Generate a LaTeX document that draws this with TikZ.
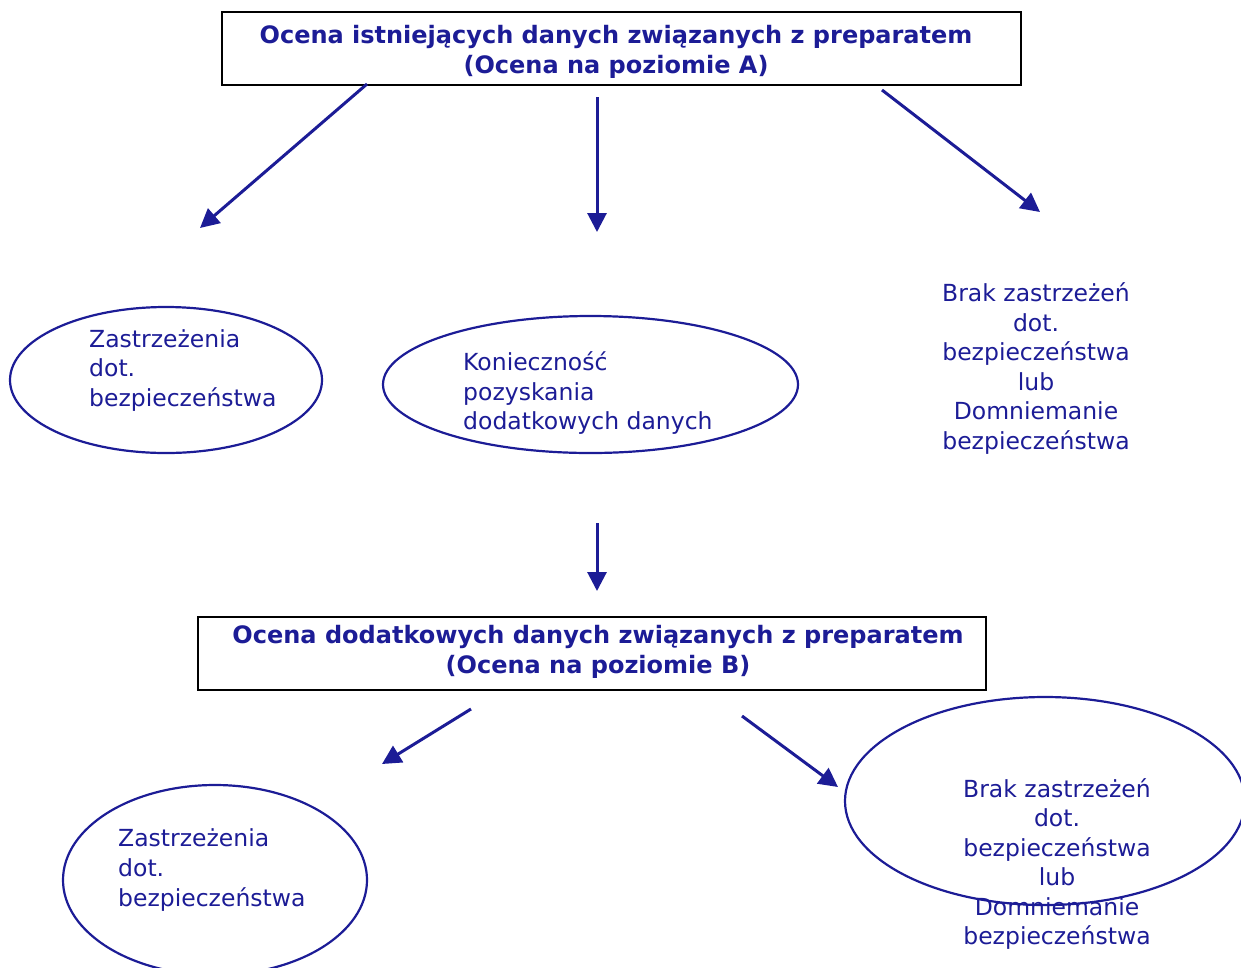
\documentclass[tikz,border=0pt]{standalone}
\usepackage{fontspec}
\setmainfont{DejaVu Sans}
\usetikzlibrary{shapes.geometric,arrows.meta}
\definecolor{navy}{RGB}{28,28,150}
\tikzset{
  titlebox/.style={draw=black,line width=2pt,rectangle,inner sep=0pt},
  titletext/.style={text=navy,inner sep=0pt,align=center,
    font=\bfseries\fontsize{24}{29.5}\selectfont},
  oval/.style={draw=navy,line width=2.2pt,ellipse,inner sep=0pt},
  label/.style={text=navy,inner sep=0pt,font=\fontsize{23.5}{29.5}\selectfont},
  flow/.style={draw=navy,line width=3pt,-{Triangle[length=19pt,width=19pt]}}
}
\begin{document}
\begin{tikzpicture}[x=1pt,y=-1pt]
\useasboundingbox (0,0) rectangle (1241,967);
\clip (0,0) rectangle (1241,967);
% boxes
\node[titlebox,minimum width=799pt,minimum height=73pt] (boxA) at (621.5,48.5) {};
\node[titletext] (titleA) at (616,52)
  {Ocena istniejących danych związanych z preparatem\\(Ocena na poziomie A)};
\node[titlebox,minimum width=788pt,minimum height=73pt] (boxB) at (592,653.5) {};
\node[titletext] (titleB) at (598,652)
  {Ocena dodatkowych danych związanych z preparatem\\(Ocena na poziomie B)};
% ellipses
\node[oval,minimum width=312pt,minimum height=146pt] (e1) at (166,380) {};
\node[oval,minimum width=415pt,minimum height=137pt] (e2) at (590.5,384.5) {};
\node[oval,minimum width=304pt,minimum height=190pt] (e3) at (215,880) {};
\node[oval,minimum width=400pt,minimum height=208pt] (e4) at (1045,801) {};
% texts
\node[label,anchor=west,align=left] (t1) at (89,370.5) {Zastrzeżenia\\dot.\\bezpieczeństwa};
\node[label,anchor=west,align=left] (t2) at (463,393) {Konieczność\\pozyskania\\dodatkowych danych};
\node[label,align=center] (t3) at (1036,368.5) {Brak zastrzeżeń\\dot.\\bezpieczeństwa\\lub\\Domniemanie\\bezpieczeństwa};
\node[label,anchor=west,align=left] (t4) at (118,870) {Zastrzeżenia\\dot.\\bezpieczeństwa};
\node[label,align=center] (t5) at (1057,864) {Brak zastrzeżeń\\dot.\\bezpieczeństwa\\lub\\Domniemanie\\bezpieczeństwa};
% arrow end points
\coordinate (a1s) at (367,84);  \coordinate (a1e) at (200,228);
\coordinate (a2s) at (597,97);  \coordinate (a2e) at (597,232);
\coordinate (a3s) at (882,90);  \coordinate (a3e) at (1040,212);
\coordinate (a4s) at (597,523); \coordinate (a4e) at (597,591);
\coordinate (a5s) at (471,709); \coordinate (a5e) at (382,764);
\coordinate (a6s) at (742,716); \coordinate (a6e) at (838,787);
\draw[flow] (a1s) -- (a1e);
\draw[flow] (a2s) -- (a2e);
\draw[flow] (a3s) -- (a3e);
\draw[flow] (a4s) -- (a4e);
\draw[flow] (a5s) -- (a5e);
\draw[flow] (a6s) -- (a6e);
\end{tikzpicture}
\end{document}
